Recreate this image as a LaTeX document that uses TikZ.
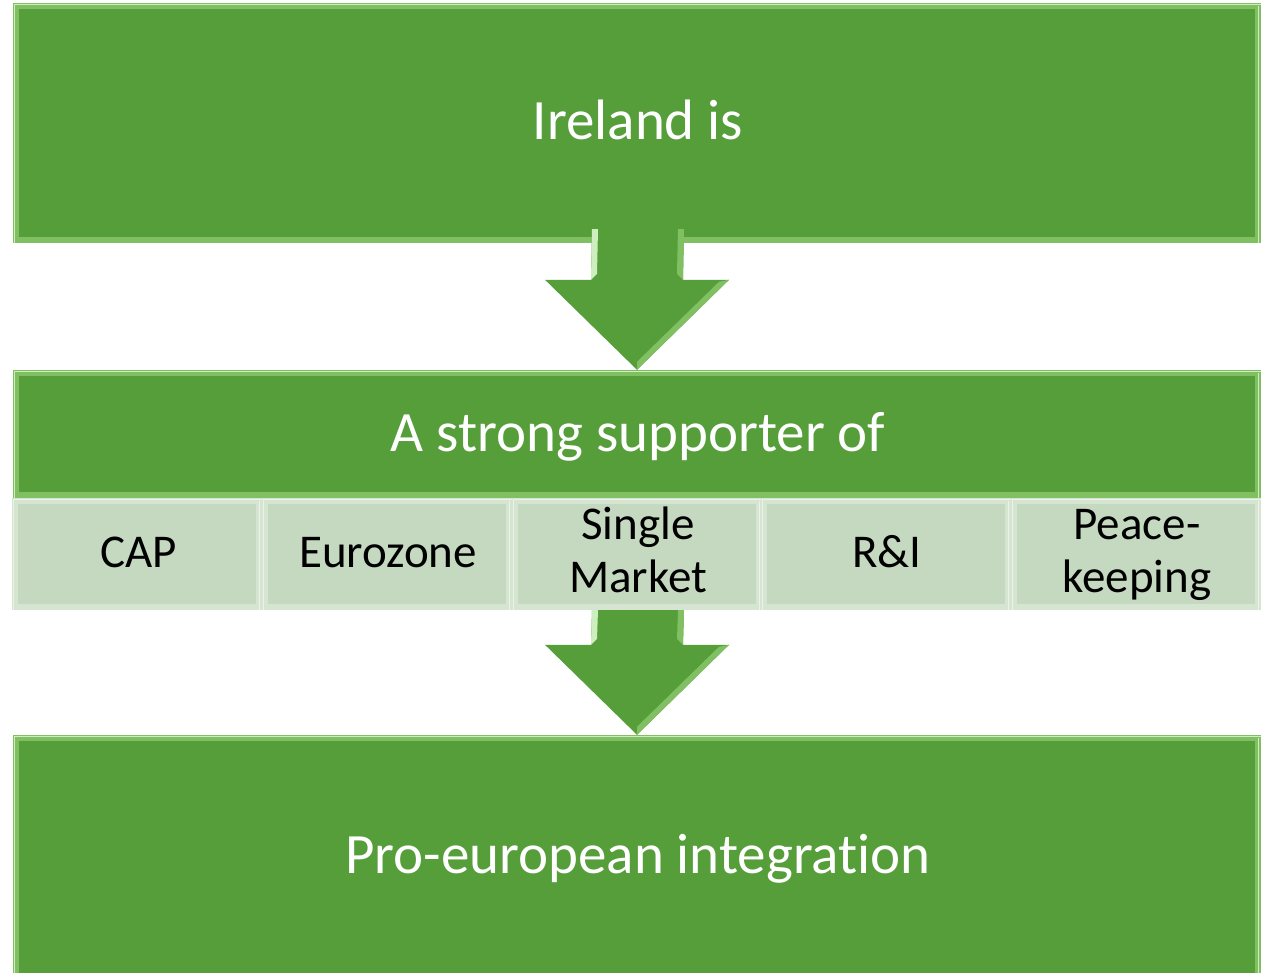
\documentclass[tikz,border=0pt]{standalone}
\usepackage{fontspec}
\setmainfont{Carlito}[Ligatures=NoCommon]
\usetikzlibrary{calc,backgrounds}
\definecolor{grn}{RGB}{86,158,58}
\definecolor{grnlt}{RGB}{128,192,98}
\definecolor{grnhi}{RGB}{205,238,190}
\definecolor{pale}{RGB}{197,217,192}
\definecolor{palelt}{RGB}{214,229,210}
\definecolor{palehi}{RGB}{235,243,233}
\tikzset{
  gbox/.style={rectangle, inner sep=0pt, minimum width=1248pt},
  sbox/.style={rectangle, inner sep=0pt, minimum width=250pt, minimum height=112pt},
  wtxt/.style={anchor=base, text=white, font=\fontsize{57}{68}\selectfont, inner sep=0pt},
  btxt/.style={anchor=base, text=black, font=\fontsize{47}{53}\selectfont, inner sep=0pt},
  btxt2/.style={anchor=base, text=black, font=\fontsize{47}{53}\selectfont, inner sep=0pt, align=center},
}
% bevelled fill of a named node: #1 node, #2 edge colour, #3 face colour, #4 highlight
\newcommand\bevfill[4]{%
  \fill[#2] (#1.north west) rectangle (#1.south east);
  \fill[#3] ($(#1.north west)+(6,6)$) rectangle ($(#1.south east)+(-6,-6)$);
  \draw[#4, line width=1.2pt] ($(#1.south west)+(1.5,0)$) -- ($(#1.north west)+(1.5,1.5)$) -- ($(#1.north east)+(0,1.5)$);
  \draw[#4, line width=1pt] ($(#1.north east)+(-2.5,3)$) -- ($(#1.south east)+(-2.5,0)$);
}
% block arrow from shaft start #1 to tip #2
\newcommand\blockarr[2]{%
  \fill[grn] ($(#1)+(-46,0)$) -- ($(#1)+(46,0)$) -- ($(#2)+(46,-90)$) -- ($(#2)+(92,-90)$)
     -- (#2) -- ($(#2)+(-92,-90)$) -- ($(#2)+(-46,-90)$) -- cycle;
  \fill[grnhi] ($(#1)+(-46,0)$) -- ($(#1)+(-40,0)$) -- ($(#2)+(-40,-96)$) -- ($(#2)+(-46,-90)$) -- cycle;
  \fill[grnlt] ($(#1)+(46,0)$) -- ($(#1)+(40,0)$) -- ($(#2)+(40,-96)$) -- ($(#2)+(46,-90)$) -- cycle;
  \fill[grnlt] ($(#2)+(92,-90)$) -- (#2) -- ($(#2)+(0,-8)$) -- ($(#2)+(82,-88)$) -- cycle;
}
\begin{document}
\begin{tikzpicture}[x=1pt,y=-1pt]
\useasboundingbox (0,0) rectangle (1262,973);
% boxes
\node[gbox, minimum height=240pt] (top) at (637,123) {};
\node[gbox, minimum height=128pt] (mid) at (637,434) {};
\node[gbox, minimum height=250pt] (bot) at (637,860) {};
\node[sbox] (s1) at (137,554) {};
\node[sbox] (s2) at (387,554) {};
\node[sbox] (s3) at (637,554) {};
\node[sbox] (s4) at (886,554) {};
\node[sbox] (s5) at (1136,554) {};
\coordinate (a1) at ($(top.south)+(1,-14)$);
\coordinate (a2) at ($(s3.south)+(1,0)$);
\begin{scope}[on background layer]
  \fill[white] (0,0) rectangle (1262,973);
  \bevfill{top}{grnlt}{grn}{grnhi}
  \bevfill{mid}{grnlt}{grn}{grnhi}
  \bevfill{bot}{grnlt}{grn}{grnhi}
  \bevfill{s1}{palelt}{pale}{palehi}
  \bevfill{s2}{palelt}{pale}{palehi}
  \bevfill{s3}{palelt}{pale}{palehi}
  \bevfill{s4}{palelt}{pale}{palehi}
  \bevfill{s5}{palelt}{pale}{palehi}
  \blockarr{a1}{mid.north}
  \blockarr{a2}{bot.north}
\end{scope}
% texts
\node[wtxt] (t1) at (638,140) {Ireland is};
\node[wtxt] (t2) at (638,452) {A strong supporter of};
\node[wtxt] (t3) at (638,873) {Pro-european integration};
\node[btxt] (l1) at (139,568) {CAP};
\node[btxt] (l2) at (388,568) {Eurozone};
\node[btxt2] (l3) at (638,592) {Single\\Market};
\node[btxt] (l4) at (887,568) {R\&I};
\node[btxt2] (l5) at (1137,592) {Peace-\\keeping};
\end{tikzpicture}
\end{document}
